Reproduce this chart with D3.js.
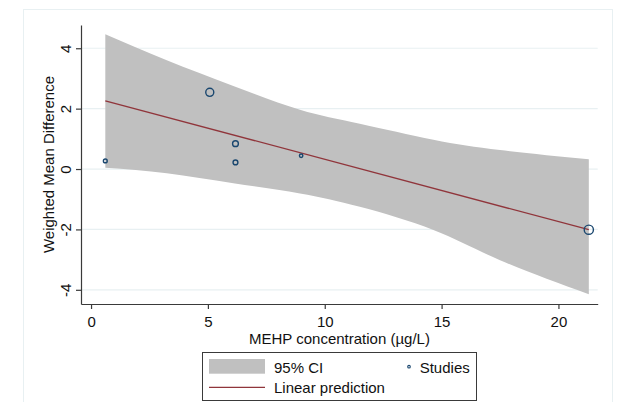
<!DOCTYPE html>
<html>
<head>
<meta charset="utf-8">
<script src="https://cdn.jsdelivr.net/npm/d3@7"></script>
<style>
  body { margin: 0; background: #fff; }
  text { font-family: "Liberation Sans", Arial, sans-serif; fill: #111; }
</style>
</head>
<body>
<script>
// valeurs
const xTicks = [0, 5, 10, 15, 20];
const yTicks = [-4, -2, 0, 2, 4];

const studyX = [0.61, 5.08, 6.18, 6.18, 8.99, 21.3];
const studyY = [0.27, 2.54, 0.84, 0.22, 0.44, -2.01];
const studyWeight = [3.6, 16, 8.4, 5.8, 2.9, 21];

const ciX = [0.61, 3.24, 6.09, 8.94, 11.5, 14.65, 17.5, 21.3];
const ciUpper = [4.46, 3.6, 2.75, 1.96, 1.5, 0.97, 0.63, 0.32];
const ciLower = [0.04, -0.14, -0.47, -0.81, -1.25, -2.02, -3.02, -4.15];

const fitX = [0.61, 21.3];
const fitY = [2.26, -2.01];

const W = 625, H = 402;
const plot = { left: 81, right: 597.7, top: 25, bottom: 304 };

const svg = d3.select("body").append("svg")
    .attr("width", W)
    .attr("height", H);

// cadre extérieur
svg.append("rect")
    .attr("x", 23.5).attr("y", 9.5)
    .attr("width", 589).attr("height", 420)
    .attr("fill", "none")
    .attr("stroke", "#e8f0f2");

const x = d3.scaleLinear()
    .domain([-0.43, 21.68])
    .range([plot.left, plot.right]);

const y = d3.scaleLinear()
    .domain([-4.47, 4.77])
    .range([plot.bottom, plot.top]);

// grille
svg.append("g")
    .selectAll("line")
    .data(yTicks)
    .join("line")
    .attr("x1", plot.left).attr("x2", plot.right)
    .attr("y1", d => y(d)).attr("y2", d => y(d))
    .attr("stroke", "#e8f0f2")
    .attr("stroke-width", 1.2);

// intervalle de confiance
const ci = ciX.map((v, i) => ({ x: v, lo: ciLower[i], hi: ciUpper[i] }));
svg.append("path")
    .datum(ci)
    .attr("d", d3.area()
        .x(d => x(d.x))
        .y0(d => y(d.lo))
        .y1(d => y(d.hi))
        .curve(d3.curveNatural))
    .attr("fill", "#c0c0c0");

// droite de régression
const fit = fitX.map((v, i) => ({ x: v, y: fitY[i] }));
svg.append("path")
    .datum(fit)
    .attr("d", d3.line().x(d => x(d.x)).y(d => y(d.y)))
    .attr("fill", "none")
    .attr("stroke", "#90353b")
    .attr("stroke-width", 1.3);

// études
const r = d3.scaleSqrt()
    .domain([0, d3.max(studyWeight)])
    .range([0, 4.6]);

const studies = studyX.map((v, i) => ({ x: v, y: studyY[i], w: studyWeight[i] }));
svg.append("g")
    .selectAll("circle")
    .data(studies)
    .join("circle")
    .attr("cx", d => x(d.x))
    .attr("cy", d => y(d.y))
    .attr("r", d => r(d.w))
    .attr("fill", "none")
    .attr("stroke", "#1a476f")
    .attr("stroke-width", 1.4);

// axes (tiret simple pour les négatifs, comme Stata)
const fmt = d => String(d);

const xAxis = svg.append("g")
    .attr("transform", `translate(0,${plot.bottom})`)
    .call(d3.axisBottom(x).tickValues(xTicks).tickFormat(fmt).tickSize(5).tickSizeOuter(0));
xAxis.selectAll("text")
    .attr("y", 23).attr("dy", 0)
    .style("font-size", "15px");

const yAxis = svg.append("g")
    .attr("transform", `translate(${plot.left},0)`)
    .call(d3.axisLeft(y).tickValues(yTicks).tickFormat(fmt).tickSize(5).tickSizeOuter(0));
yAxis.selectAll("text")
    .attr("x", 0).attr("y", -10.3).attr("dy", 0)
    .attr("transform", "rotate(-90)")
    .attr("text-anchor", "middle")
    .style("font-size", "15px");

svg.selectAll(".domain, .tick line")
    .attr("stroke", "#3a3a3a")
    .attr("stroke-width", 1.2);
svg.selectAll(".tick text").attr("fill", "#111").attr("font-family", null);

// titres
svg.append("text")
    .attr("x", 339.5).attr("y", 344)
    .attr("text-anchor", "middle")
    .style("font-size", "15px")
    .text("MEHP concentration (µg/L)");

svg.append("text")
    .attr("transform", "translate(53.5,164.5) rotate(-90)")
    .attr("text-anchor", "middle")
    .style("font-size", "15px")
    .text("Weighted Mean Difference");

// légende
const legend = svg.append("g");
legend.append("rect")
    .attr("x", 202.5).attr("y", 352.5)
    .attr("width", 274).attr("height", 48)
    .attr("fill", "#fff")
    .attr("stroke", "#3a3a3a");
legend.append("rect")
    .attr("x", 209).attr("y", 359)
    .attr("width", 56).attr("height", 14.7)
    .attr("fill", "#c0c0c0");
legend.append("line")
    .attr("x1", 209).attr("x2", 265)
    .attr("y1", 387.3).attr("y2", 387.3)
    .attr("stroke", "#90353b")
    .attr("stroke-width", 1.3);
legend.append("circle")
    .attr("cx", 409).attr("cy", 366.7).attr("r", 1.3)
    .attr("fill", "none")
    .attr("stroke", "#1a476f")
    .attr("stroke-width", 1.1);
legend.append("text")
    .attr("x", 274).attr("y", 373.3)
    .style("font-size", "15px")
    .text("95% CI");
legend.append("text")
    .attr("x", 419.7).attr("y", 373.3)
    .style("font-size", "15px")
    .text("Studies");
legend.append("text")
    .attr("x", 274).attr("y", 392.7)
    .style("font-size", "15px")
    .text("Linear prediction");
</script>
</body>
</html>
